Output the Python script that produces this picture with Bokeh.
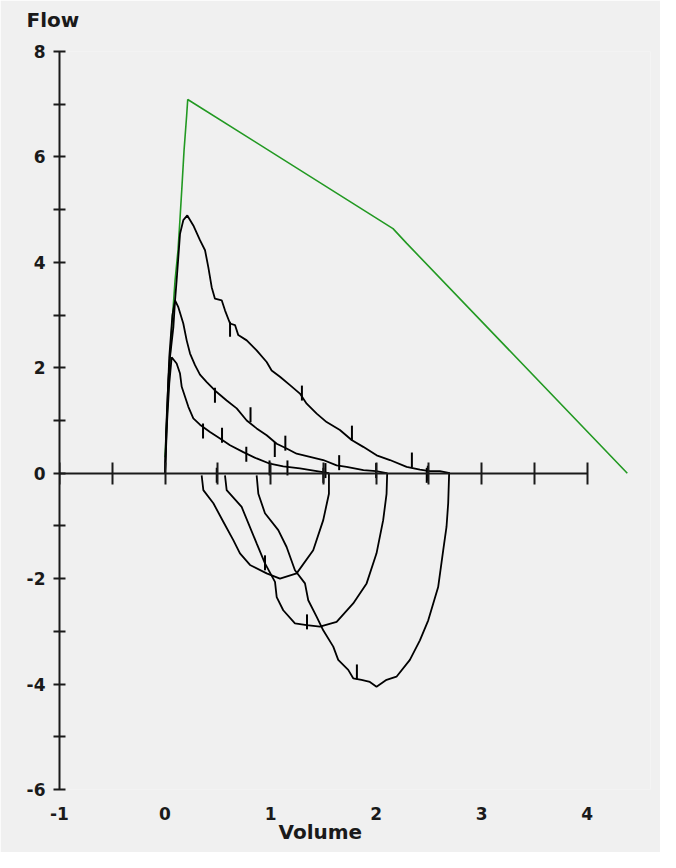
import numpy as np
from bokeh.plotting import figure
from bokeh.models import LinearAxis, FixedTicker, Range1d, Title
from bokeh.embed import file_html
from bokeh.resources import INLINE

# ---- data ----
green_x = [0.0, 0.047, 0.066, 0.095, 0.123, 0.142, 0.161, 0.18, 0.205, 0.215, 2.16, 2.29, 4.38]
green_y = [0.3, 2.2, 2.84, 3.66, 4.23, 4.83, 5.46, 6.12, 6.79, 7.09, 4.64, 4.36, 0.0]

exp_a_x = [0.0, 0.01, 0.031, 0.047, 0.079, 0.095, 0.11, 0.126, 0.142, 0.173, 0.211, 0.268, 0.331, 0.379,
           0.41, 0.442, 0.473, 0.537, 0.568, 0.616, 0.663, 0.694, 0.774, 0.868, 0.963, 1.01, 1.089, 1.184,
           1.278, 1.342, 1.437, 1.531, 1.657, 1.768, 1.878, 2.005, 2.131, 2.289, 2.415, 2.509, 2.604, 2.699]
exp_a_y = [0.0, 0.8, 1.76, 2.2, 2.77, 3.28, 3.66, 4.1, 4.54, 4.8, 4.89, 4.70, 4.42, 4.23,
           3.91, 3.53, 3.31, 3.28, 3.09, 2.84, 2.81, 2.62, 2.52, 2.33, 2.11, 1.95, 1.83, 1.67,
           1.51, 1.32, 1.13, 0.97, 0.82, 0.63, 0.50, 0.34, 0.25, 0.12, 0.07, 0.04, 0.04, 0.0]
insp_a_x = [2.692, 2.683, 2.667, 2.636, 2.588, 2.494, 2.415, 2.32, 2.193, 2.099, 2.004, 1.941, 1.862,
            1.783, 1.736, 1.641, 1.594, 1.499, 1.436, 1.357, 1.326, 1.231, 1.152, 1.073, 0.947, 0.884, 0.868]
insp_a_y = [0.0, -0.57, -1.02, -1.46, -2.16, -2.79, -3.17, -3.54, -3.86, -3.92, -4.05, -3.96, -3.92,
            -3.89, -3.73, -3.54, -3.29, -2.98, -2.72, -2.41, -2.09, -1.84, -1.40, -1.08, -0.76, -0.39, -0.04]

exp_b_x = [0.0, 0.02, 0.04, 0.07, 0.095, 0.126, 0.173, 0.205, 0.237, 0.284, 0.331, 0.395, 0.489, 0.584,
           0.679, 0.774, 0.868, 0.963, 1.058, 1.152, 1.247, 1.373, 1.499, 1.626, 1.72, 1.88, 2.0, 2.1]
exp_b_y = [0.0, 1.2, 2.2, 3.0, 3.28, 3.15, 2.84, 2.52, 2.27, 2.05, 1.87, 1.73, 1.54, 1.38,
           1.23, 1.00, 0.85, 0.72, 0.56, 0.47, 0.37, 0.31, 0.25, 0.15, 0.12, 0.06, 0.04, 0.0]
insp_b_x = [2.105, 2.099, 2.067, 2.004, 1.91, 1.783, 1.626, 1.468, 1.342, 1.231, 1.12, 1.058, 1.042,
            0.947, 0.868, 0.726, 0.584, 0.568]
insp_b_y = [0.0, -0.39, -0.89, -1.52, -2.09, -2.47, -2.82, -2.91, -2.88, -2.85, -2.60, -2.35, -2.06,
            -1.71, -1.33, -0.64, -0.32, -0.04]

exp_c_x = [0.0, 0.02, 0.04, 0.063, 0.11, 0.142, 0.158, 0.221, 0.268, 0.331, 0.426, 0.521, 0.616,
           0.742, 0.868, 0.994, 1.12, 1.278, 1.437, 1.553]
exp_c_y = [0.0, 1.0, 1.7, 2.2, 2.08, 1.89, 1.64, 1.26, 1.04, 0.92, 0.78, 0.66, 0.53,
           0.40, 0.28, 0.18, 0.13, 0.09, 0.04, 0.0]
insp_c_x = [1.553, 1.553, 1.499, 1.404, 1.247, 1.089, 0.963, 0.805, 0.71, 0.647, 0.552, 0.458, 0.363, 0.347]
insp_c_y = [0.0, -0.39, -0.89, -1.46, -1.90, -2.0, -1.90, -1.74, -1.52, -1.27, -0.92, -0.57, -0.32, -0.04]

mark_x = [0.616, 1.297, 1.771, 2.339, 2.49, 0.473, 0.81, 1.04, 1.14, 1.65, 2.0,
          0.36, 0.54, 0.77, 0.99, 1.16, 1.52, 0.49, 1.5, 2.48, 1.345, 1.818, 0.947]
mark_y = [2.73, 1.52, 0.76, 0.25, 0.0, 1.48, 1.11, 0.45, 0.57, 0.2, 0.05,
          0.80, 0.72, 0.36, 0.1, 0.1, 0.05, -0.04, -0.04, -0.04, -2.82, -3.77, -1.7]

y_major = [-6, -4, -2, 0, 2, 4, 6, 8]
y_minor = [-5, -3, -1, 1, 3, 5, 7]
x_ticks = [-1, -0.5, 0, 0.5, 1, 1.5, 2, 2.5, 3, 3.5, 4]
x_labels = [-1, 0, 1, 2, 3, 4]

BG = "#f0f0f0"
INK = "#1a1a1a"
FONT = "DejaVu Sans"

p = figure(width=660, height=852, x_range=Range1d(-1, 4.6), y_range=Range1d(-6, 8),
           output_backend="svg", toolbar_location=None,
           x_axis_type=None, y_axis_type=None,
           min_border_left=59, min_border_right=10, min_border_top=51, min_border_bottom=63,
           background_fill_color=BG, border_fill_color=BG, outline_line_color=None)
p.grid.visible = False

# spacer nearest the frame, then the "Flow" title above it
spacer = Title(text=" ", text_font_size="2px", standoff=14, text_color=BG)
p.add_layout(spacer, "above")
flow = Title(text="Flow", align="left", offset=-33, standoff=4,
             text_font=FONT, text_font_style="bold", text_font_size="20px", text_color=INK)
p.add_layout(flow, "above")

yax = LinearAxis(ticker=FixedTicker(ticks=y_major, minor_ticks=y_minor), bounds=(-6, 8))
yax.axis_line_color = INK
yax.axis_line_width = 2
yax.major_tick_line_color = INK
yax.major_tick_line_width = 2
yax.minor_tick_line_color = INK
yax.minor_tick_line_width = 2
yax.major_tick_in = 6
yax.major_tick_out = 6
yax.minor_tick_in = 6
yax.minor_tick_out = 6
yax.major_label_standoff = 8
yax.major_label_overrides = {t: str(t) for t in y_major}
yax.major_label_text_font = FONT
yax.major_label_text_font_style = "bold"
yax.major_label_text_font_size = "17px"
yax.major_label_text_color = INK
p.add_layout(yax, "left")

x0 = LinearAxis(ticker=FixedTicker(ticks=x_ticks, minor_ticks=[]), bounds=(-1, 4), fixed_location=0)
x0.axis_line_color = INK
x0.axis_line_width = 2
x0.major_tick_line_color = INK
x0.major_tick_line_width = 2
x0.major_tick_in = 11
x0.major_tick_out = 11
x0.minor_tick_line_color = None
x0.major_label_overrides = {t: "" for t in x_ticks}
x0.major_label_text_font_size = "1px"
p.add_layout(x0, "below")

xl = LinearAxis(ticker=FixedTicker(ticks=x_labels, minor_ticks=[]), bounds=(-1, 4))
xl.axis_line_color = None
xl.major_tick_line_color = None
xl.minor_tick_line_color = None
xl.major_tick_out = 0
xl.major_tick_in = 0
xl.major_label_standoff = 17
xl.major_label_overrides = {t: str(t) for t in x_labels}
xl.major_label_text_font = FONT
xl.major_label_text_font_style = "bold"
xl.major_label_text_font_size = "17px"
xl.major_label_text_color = INK
p.add_layout(xl, "below")

vol = Title(text="Volume", align="left", offset=219, standoff=-10,
            text_font=FONT, text_font_style="bold", text_font_size="20px", text_color=INK)
p.add_layout(vol, "below")

p.line(green_x, green_y, line_color="#229922", line_width=1.6)
for ex, ey, ix, iy in [(exp_a_x, exp_a_y, insp_a_x, insp_a_y),
                       (exp_b_x, exp_b_y, insp_b_x, insp_b_y),
                       (exp_c_x, exp_c_y, insp_c_x, insp_c_y)]:
    p.line(ex + ix, ey + iy, line_color="black", line_width=1.8)

p.scatter(mark_x, mark_y, marker="dash", angle=np.pi / 2, size=15,
          line_color="black", line_width=2)

open("out.html", "w").write(file_html(p, INLINE))
